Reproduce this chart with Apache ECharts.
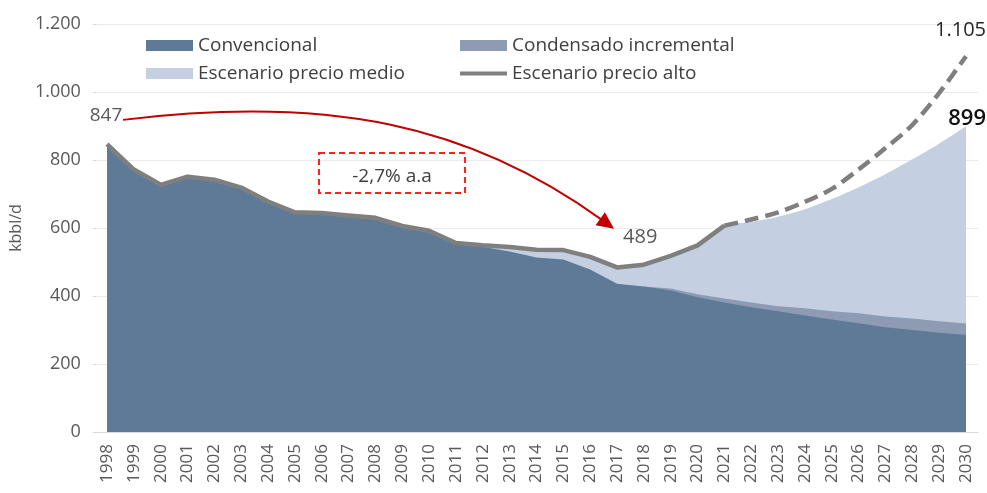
<!DOCTYPE html>
<html>
<head>
<meta charset="utf-8">
<script src="https://cdn.jsdelivr.net/npm/echarts@6/dist/echarts.min.js"></script>
<style>
html, body { margin: 0; background: #fff; }
#chart { width: 987px; height: 493px; }
</style>
</head>
<body>
<div id="chart"></div>
<script>
// años 1998 - 2030
var years = ['1998','1999','2000','2001','2002','2003','2004','2005','2006','2007','2008',
  '2009','2010','2011','2012','2013','2014','2015','2016','2017','2018','2019','2020',
  '2021','2022','2023','2024','2025','2026','2027','2028','2029','2030'];

// producción convencional (kbbl/d)
var convencional = [845, 770, 724, 748, 740, 717, 675, 643, 641, 633, 625,
  601, 587, 552, 545, 531, 513, 507, 478, 436, 428, 416, 396,
  381, 367, 355, 343, 331, 320, 308, 300, 292, 285];

// borde superior de convencional + condensado incremental
var condensado = ['-', '-', '-', '-', '-', '-', '-', '-', '-', '-', '-',
  '-', '-', '-', '-', '-', '-', '-', '-', '-', 428, 422, 405,
  393, 381, 370, 364, 355, 349, 340, 334, 326, 319];

// total escenario precio medio (histórico = real)
var precioMedio = [847, 772, 727, 751, 742, 719, 678, 646, 644, 637, 630,
  606, 592, 556, 549, 544, 536, 535, 515, 484, 492, 518, 549,
  607, 618, 633, 655, 685, 720, 758, 802, 848, 899];

// escenario precio alto: tramo histórico (línea continua) y proyección (discontinua)
var altoHist = [847, 772, 727, 751, 742, 719, 678, 646, 644, 637, 630,
  606, 592, 556, 549, 544, 536, 535, 515, 484, 492, 518, 549,
  607, '-', '-', '-', '-', '-', '-', '-', '-', '-'];
var altoProj = ['-', '-', '-', '-', '-', '-', '-', '-', '-', '-', '-',
  '-', '-', '-', '-', '-', '-', '-', '-', '-', '-', '-', '-',
  607, 625, 646, 677, 715, 772, 835, 903, 997, 1105];

var labelInicio = '847';
var labelMinimo = '489';
var labelAlto = '1.105';
var labelMedio = '899';
var labelTasa = '-2,7% a.a';

var FONT = 'Open Sans';
var colConv = '#5f7a97';
var colCond = '#8d9bb3';
var colMedio = '#c4cfe2';
var colLinea = '#7f7f7f';

var chart = echarts.init(document.getElementById('chart'));

function fmtMiles(v) {
  var s = String(v);
  return s.length > 3 ? s.slice(0, s.length - 3) + '.' + s.slice(-3) : s;
}

var legendBase = {
  orient: 'horizontal',
  itemWidth: 47,
  itemHeight: 11,
  icon: 'rect',
  selectedMode: false,
  textStyle: { fontFamily: FONT, fontSize: 19, color: '#404040' }
};

var option = {
  animation: false,
  grid: [
    { left: 88, right: 9, top: 24, bottom: 61 },
    { left: 107, right: 21, top: 24, bottom: 61 }
  ],
  legend: [
    Object.assign({}, legendBase, { left: 141, top: 31, data: ['Convencional'] }),
    Object.assign({}, legendBase, { left: 455, top: 31, data: ['Condensado incremental'] }),
    Object.assign({}, legendBase, { left: 141, top: 59, data: ['Escenario precio medio'] }),
    Object.assign({}, legendBase, { left: 455, top: 59, itemHeight: 4,
      data: [{ name: 'Escenario precio alto', itemStyle: { color: colLinea } }] })
  ],
  xAxis: [
    {
      gridIndex: 0, type: 'value', min: 0, max: 1,
      axisLine: { show: true, lineStyle: { color: '#d9d9d9', width: 1 } },
      axisTick: { show: false }, axisLabel: { show: false }, splitLine: { show: false }
    },
    {
      gridIndex: 1, type: 'category', data: years, boundaryGap: false,
      axisLine: { show: false }, axisTick: { show: false },
      axisLabel: { rotate: 90, margin: 12, interval: 0, fontFamily: FONT, fontSize: 17, color: '#595959' }
    }
  ],
  yAxis: [
    {
      gridIndex: 0, type: 'value', min: 0, max: 1200, interval: 200,
      name: 'kbbl/d', nameLocation: 'middle', nameRotate: 90, nameGap: 51,
      nameTextStyle: { fontFamily: FONT, fontSize: 16, color: '#595959' },
      axisLine: { show: false },
      axisTick: { show: true, length: 4, lineStyle: { color: '#d9d9d9' } },
      axisLabel: { margin: 16, fontFamily: FONT, fontSize: 18, color: '#595959', formatter: fmtMiles },
      splitLine: { lineStyle: { color: '#ebebeb', width: 1 } }
    },
    {
      gridIndex: 1, type: 'value', min: 0, max: 1200, interval: 200,
      axisLine: { show: false }, axisTick: { show: false },
      axisLabel: { show: false }, splitLine: { show: false }
    }
  ],
  series: [
    {
      name: 'Escenario precio medio', type: 'line', xAxisIndex: 1, yAxisIndex: 1,
      data: precioMedio, showSymbol: false, smooth: 0.3, z: 2,
      lineStyle: { width: 0 }, itemStyle: { color: colMedio },
      areaStyle: { color: colMedio, opacity: 1 }
    },
    {
      name: 'Condensado incremental', type: 'line', xAxisIndex: 1, yAxisIndex: 1,
      data: condensado, showSymbol: false, z: 3,
      lineStyle: { width: 0 }, itemStyle: { color: colCond },
      areaStyle: { color: colCond, opacity: 1 }
    },
    {
      name: 'Convencional', type: 'line', xAxisIndex: 1, yAxisIndex: 1,
      data: convencional, showSymbol: false, z: 4,
      lineStyle: { width: 0 }, itemStyle: { color: colConv },
      areaStyle: { color: colConv, opacity: 1 }
    },
    {
      name: 'Escenario precio alto', type: 'line', xAxisIndex: 1, yAxisIndex: 1,
      data: altoHist, showSymbol: false, z: 5,
      itemStyle: { color: colLinea },
      lineStyle: { color: colLinea, width: 4.5, join: 'round' }
    },
    {
      name: 'Escenario precio alto', type: 'line', xAxisIndex: 1, yAxisIndex: 1,
      data: altoProj, showSymbol: false, smooth: 0.3, z: 5,
      itemStyle: { color: colLinea },
      lineStyle: { color: colLinea, width: 4.5, type: [14, 7] }
    }
  ]
};

chart.setOption(option);

// anotaciones: flecha curva, caja de tasa y etiquetas de valores
function px(cat, val) {
  return chart.convertToPixel({ xAxisIndex: 1, yAxisIndex: 1 }, [cat, val]);
}

var pIni = px('1998', 847);
var pMin = px('2017', 484);
var pAlto = px('2030', 1105);
var pMedio = px('2030', 899);

var a0 = px('1998', 918); a0[0] += 16;
var a3 = px('2017', 598); a3[0] -= 3;
var c1 = [a0[0] + 207, a0[1] - 25];
var c2 = [a3[0] - 144, a3[1] - 104];
var dx = a3[0] - c2[0], dy = a3[1] - c2[1];
var len = Math.sqrt(dx * dx + dy * dy);
var ux = dx / len, uy = dy / len;
var headL = 17, headW = 8;
var base = [a3[0] - ux * headL, a3[1] - uy * headL];

chart.setOption({
  graphic: [
    {
      type: 'bezierCurve', z: 20,
      shape: { x1: a0[0], y1: a0[1], cpx1: c1[0], cpy1: c1[1], cpx2: c2[0], cpy2: c2[1],
        x2: base[0] + ux * 2, y2: base[1] + uy * 2 },
      style: { stroke: '#c00000', lineWidth: 2, fill: null }
    },
    {
      type: 'polygon', z: 20,
      shape: { points: [a3, [base[0] - uy * headW, base[1] + ux * headW], [base[0] + uy * headW, base[1] - ux * headW]] },
      style: { fill: '#c00000' }
    },
    {
      type: 'rect', z: 20,
      shape: { x: 319, y: 153, width: 146, height: 40 },
      style: { fill: null, stroke: '#ff2020', lineWidth: 2, lineDash: [6, 4] }
    },
    {
      type: 'text', z: 21, x: 392, y: 177,
      style: { text: labelTasa, font: '19px "Open Sans"', fill: '#404040', align: 'center', verticalAlign: 'middle' }
    },
    {
      type: 'text', z: 21, x: pIni[0] - 1, y: pIni[1] - 28,
      style: { text: labelInicio, font: '19px "Open Sans"', fill: '#595959', align: 'center', verticalAlign: 'middle' }
    },
    {
      type: 'text', z: 21, x: pMin[0] + 6, y: pMin[1] - 30,
      style: { text: labelMinimo, font: '20px "Open Sans"', fill: '#595959', align: 'left', verticalAlign: 'middle' }
    },
    {
      type: 'text', z: 21, x: pAlto[0] + 20, y: 30,
      style: { text: labelAlto, font: '20px "Open Sans"', fill: '#262626', align: 'right', verticalAlign: 'middle' }
    },
    {
      type: 'text', z: 21, x: pMedio[0] + 20, y: pMedio[1] - 8,
      style: { text: labelMedio, font: '600 22px "Open Sans"', fill: '#111111', align: 'right', verticalAlign: 'middle' }
    }
  ]
});
</script>
</body>
</html>
